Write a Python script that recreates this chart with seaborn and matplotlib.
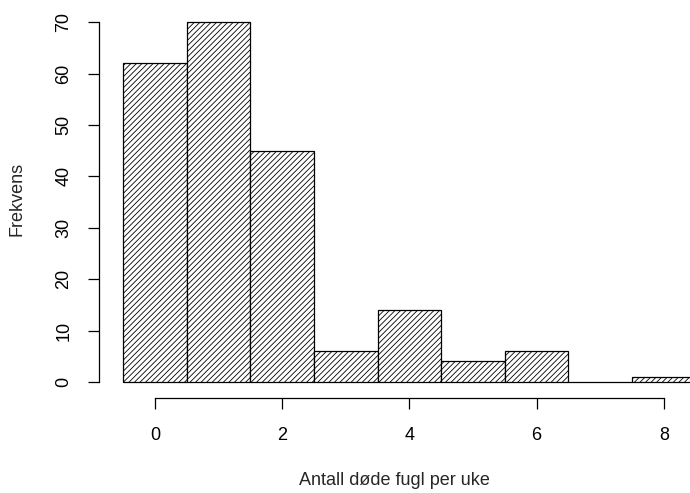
import matplotlib
matplotlib.use("Agg")
import matplotlib.pyplot as plt
import seaborn as sns
import numpy as np

# antall døde fugl per uke (0..8) og frekvens
dead_birds = [0, 1, 2, 3, 4, 5, 6, 7, 8]
frequency = [62, 70, 45, 6, 14, 4, 6, 0, 1]
x_ticks = [0, 2, 4, 6, 8]
y_ticks = [0, 10, 20, 30, 40, 50, 60, 70]

sns.set_style("white")
plt.rcParams["font.family"] = ["Liberation Sans", "DejaVu Sans"]
plt.rcParams["hatch.linewidth"] = 0.6

fig = plt.figure(figsize=(6.9, 4.93), dpi=100)
# plot region placed like the R base graphics output
ax = fig.add_axes([99 / 690, (493 - 398) / 493, (690 - 99) / 690, 398 / 493])

sns.histplot(x=dead_birds, weights=frequency, discrete=True, ax=ax,
             color="white", edgecolor="black", linewidth=0.9, alpha=1)
for p in ax.patches:
    p.set_hatch("//////")
    p.set_facecolor("white")

ax.set_xlim(-0.88, 8.41)
ax.set_ylim(-3.11, 74.3)

ax.set_xticks(x_ticks)
ax.set_yticks(y_ticks)
ax.set_yticklabels([str(v) for v in y_ticks], rotation=90, va="center")
for side in ["top", "right"]:
    ax.spines[side].set_visible(False)
ax.spines["left"].set_bounds(0, 70)
ax.spines["bottom"].set_bounds(0, 8)
for side in ["left", "bottom"]:
    ax.spines[side].set_color("black")
    ax.spines[side].set_linewidth(0.9)
ax.tick_params(axis="both", direction="out", length=8, width=0.9,
               colors="black", labelsize=13, left=True, bottom=True)
ax.tick_params(axis="x", pad=13)
ax.tick_params(axis="y", pad=11)

ax.set_xlabel("Antall døde fugl per uke", fontsize=13, labelpad=20)
ax.set_ylabel("Frekvens", fontsize=13, labelpad=22)

fig.savefig("out.png", dpi=100)
